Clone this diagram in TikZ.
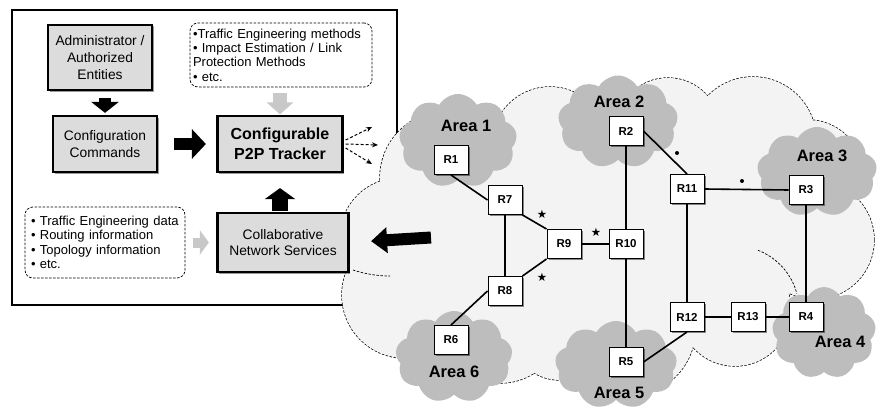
\documentclass[tikz,border=0pt]{standalone}
\usepackage{fontspec}
\setmainfont{Liberation Sans}
\newfontfamily\symfont{DejaVu Sans}
\usetikzlibrary{shapes.symbols,shadows,arrows.meta}
\definecolor{boxgray}{HTML}{DCDCDC}
\definecolor{areagray}{HTML}{BDBDBD}
\definecolor{netbg}{HTML}{F3F3F3}
\definecolor{arrowgray}{HTML}{C8C8C8}
\tikzset{
  graybox/.style={draw=black, line width=2.2pt, fill=boxgray, align=center, inner sep=0pt,
     font=\fontsize{13.8}{16.7}\selectfont,
     drop shadow={shadow xshift=1.5pt, shadow yshift=-1.5pt, opacity=0.4, fill=black}},
  notebox/.style={draw=black, line width=0.7pt, dash pattern=on 2.5pt off 1.5pt,
     rounded corners=8pt, fill=white, align=left, inner ysep=0pt,
     font=\fontsize{13}{14.3}\selectfont},
  router/.style={draw=black, line width=1pt, fill=white, minimum width=34pt,
     minimum height=29pt, inner sep=0pt, font=\bfseries\fontsize{11.5}{13}\selectfont,
     drop shadow={shadow xshift=1.5pt, shadow yshift=-1.5pt, opacity=0.45, fill=black}},
  areacloud/.style={cloud, cloud puffs=9, cloud puff arc=120, cloud ignores aspect,
     fill=areagray, inner sep=0pt},
  arealabel/.style={font=\bfseries\fontsize{16.5}{18}\selectfont},
  link/.style={line width=1.6pt},
  netedge/.style={dash pattern=on 2.5pt off 1.5pt, line width=1.4pt},
  netinner/.style={dash pattern=on 2.5pt off 1.5pt, line width=0.7pt},
  blackarrow/.style={line width=#1, draw=black},
  greyarrow/.style={line width=#1, draw=arrowgray},
  fanarrow/.style={line width=1pt, dash pattern=on 3pt off 2pt, -{Stealth[length=6pt,width=5pt]}},
  starmark/.style={font=\symfont\fontsize{11.5}{11.5}\selectfont},
}
\begin{document}
\begin{tikzpicture}[x=1pt,y=-1pt]
\useasboundingbox (0,0) rectangle (877,412);

% outer frame
\draw[line width=2.2pt] (12,10) rectangle (397,305);

% left part boxes
\node[graybox, minimum width=104pt, minimum height=65pt] (admin) at (100,57.5)
  {Administrator /\\Authorized\\Entities};
\node[graybox, minimum width=104pt, minimum height=56pt] (config) at (105,144)
  {Configuration\\Commands};
\node[graybox, minimum width=125pt, minimum height=56pt,
      font=\bfseries\fontsize{16}{20}\selectfont] (tracker) at (280,144)
  {Configurable\\P2P Tracker};
\node[notebox, text width=176pt, inner xsep=3pt, minimum height=64pt] (methods) at (281,55)
  {\textbullet Traffic Engineering methods\\
   \textbullet{} Impact Estimation / Link\\
   Protection Methods\\
   \textbullet{} etc.};
\node[notebox, text width=148pt, inner xsep=6pt, minimum height=71pt] (data) at (105,242.5)
  {\textbullet{} Traffic Engineering data\\
   \textbullet{} Routing information\\
   \textbullet{} Topology information\\
   \textbullet{} etc.};

% big network cloud: outline then fill
\foreach \cx/\cy/\r in {447/178/67, 550/145/58, 668/130/52, 753/140/63, 808/175/55,
   815/240/59, 735/310/56, 630/330/65, 560/330/50, 500/320/63, 405/295/63, 400/238/60}
  \draw[netedge] (\cx,\cy) circle[radius=\r];
\foreach \cx/\cy/\r in {447/178/67, 550/145/58, 668/130/52, 753/140/63, 808/175/55,
   815/240/59, 735/310/56, 630/330/65, 560/330/50, 500/320/63, 405/295/63, 400/238/60,
   600/230/110, 740/230/80, 450/250/60}
  \fill[netbg] (\cx,\cy) circle[radius=\r];
\draw[netinner] (735,310) ++(-69:64) arc[start angle=-69, end angle=-15, radius=64];
\draw[netinner] (353,270) .. controls (365,274) and (378,276) .. (390,276);

% area clouds
\node[areacloud, minimum width=118pt, minimum height=94pt] (c1) at (458,141) {};
\node[areacloud, minimum width=120pt, minimum height=93pt] (c2) at (618,122) {};
\node[areacloud, minimum width=120pt, minimum height=90pt] (c3) at (817,172) {};
\node[areacloud, minimum width=104pt, minimum height=92pt] (c4) at (824,333) {};
\node[areacloud, minimum width=122pt, minimum height=88pt] (c5) at (616,365) {};
\node[areacloud, minimum width=117pt, minimum height=92pt] (c6) at (454,357) {};

% routers
\node[router] (R1) at (451,160) {R1};
\node[router] (R2) at (626,131) {R2};
\node[router] (R3) at (806,190) {R3};
\node[router] (R4) at (806,317) {R4};
\node[router] (R5) at (626,362) {R5};
\node[router] (R6) at (451,340) {R6};
\node[router] (R7) at (505,200) {R7};
\node[router] (R8) at (505,291) {R8};
\node[router] (R9) at (564,244) {R9};
\node[router] (R10) at (626,244) {R10};
\node[router] (R11) at (687,189) {R11};
\node[router] (R12) at (687,317) {R12};
\node[router] (R13) at (748,317) {R13};

% links
\draw[link] (R1.south) -- (R7.west);
\draw[link] (R7.south) -- (R8.north);
\draw[link] (R7.south east) -- (R9.north west);
\draw[link] (R8.north east) -- (R9.south west);
\draw[link] (R8.west) -- (R6.north);
\draw[link] (R9.east) -- (R10.west);
\draw[link] (R2.south) -- (R10.north);
\draw[link] (R10.south) -- (R5.north);
\draw[link] (R2.east) -- (R11.north);
\draw[link] (R11.east) -- (R3.west);
\draw[link] (R11.south) -- (R12.north);
\draw[link] (R3.south) -- (R4.north);
\draw[link] (R12.east) -- (R13.west);
\draw[link] (R13.east) -- (R4.west);
\draw[link] (R12.south) -- (R5.east);

% area labels
\node[arealabel] (a1) at (466,126) {Area 1};
\node[arealabel] (a2) at (619,102) {Area 2};
\node[arealabel] (a3) at (822,156) {Area 3};
\node[arealabel] (a4) at (840,342) {Area 4};
\node[arealabel] (a5) at (619,393) {Area 5};
\node[arealabel] (a6) at (454,372) {Area 6};

% marks
\node[starmark] (s1) at (542,214) {★};
\node[starmark] (s2) at (542,277) {★};
\node[starmark] (s3) at (596,232) {★};
\fill (677,153) circle[radius=2];
\fill (742,181) circle[radius=2];

% collaborative services box (over the cloud)
\node[graybox, minimum width=131pt, minimum height=59pt] (collab) at (283,242.5)
  {Collaborative\\Network Services};

% block arrows
\draw[blackarrow=12pt, -{Triangle[length=11pt,width=27pt]}, shorten <=7pt, shorten >=2pt]
  (config.north |- admin.south) -- (config.north);
\draw[blackarrow=12pt, -{Triangle[length=14pt,width=29pt]}, shorten <=16pt, shorten >=10.5pt]
  (config.east) -- (tracker.west);
\draw[blackarrow=16pt, -{Triangle[length=11pt,width=30pt]}, shorten <=0.5pt, shorten >=15pt]
  (tracker.south |- collab.north) -- (tracker.south);
\draw[greyarrow=14pt, -{Triangle[length=12pt,width=26pt]}, shorten <=6pt, shorten >=0.5pt]
  (tracker.north |- methods.south) -- (tracker.north);
\draw[greyarrow=10pt, -{Triangle[length=9pt,width=24pt]}, shorten <=8pt, shorten >=7.5pt]
  (data.east) -- (collab.west);
\coordinate (netsrc) at (431,237.5);
\draw[blackarrow=12pt, -{Triangle[length=16pt,width=25pt]}, shorten >=21.5pt]
  (netsrc) -- (collab.east);

% fan-out dashed arrows
\coordinate (f1) at (372,127);
\coordinate (f2) at (378,145);
\coordinate (f3) at (372,164);
\draw[fanarrow] ([yshift=4pt]tracker.east) ++(2,0) -- (f1);
\draw[fanarrow] (tracker.east) ++(2,0) -- (f2);
\draw[fanarrow] ([yshift=-4pt]tracker.east) ++(2,0) -- (f3);
\end{tikzpicture}
\end{document}
